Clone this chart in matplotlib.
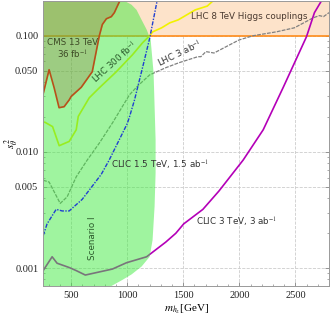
import numpy as np
import matplotlib
matplotlib.use("Agg")
import matplotlib.pyplot as plt
from matplotlib.ticker import FixedLocator, FixedFormatter, MultipleLocator, LogLocator, NullFormatter

plt.rcParams['font.family'] = ['Liberation Serif', 'DejaVu Serif']
plt.rcParams['mathtext.fontset'] = 'stix'

# ---------------- data ----------------
xlim = (250, 2800)
ylim = (0.0007, 0.2)

higgs_coupling_limit = 0.1

# CMS 13 TeV 36 fb^-1 exclusion boundary
cms_m = [250, 303, 348, 392, 437, 482, 500, 590, 688, 751, 778, 814, 858, 885, 912, 945]
cms_s = [0.0316, 0.051, 0.0356, 0.024, 0.0245, 0.028, 0.030, 0.036, 0.049, 0.100,
         0.125, 0.140, 0.146, 0.158, 0.180, 0.21]

# LHC 300 fb^-1
lhc300_m = [265, 334, 393, 482, 545, 563, 661, 751, 903, 1047, 1137, 1200, 1227, 1307,
            1379, 1455, 1607, 1714, 1790]
lhc300_s = [0.018, 0.0165, 0.0113, 0.0123, 0.0155, 0.0202, 0.0292, 0.0356, 0.049, 0.0686,
            0.087, 0.100, 0.108, 0.117, 0.129, 0.137, 0.167, 0.18, 0.21]

# LHC 3 ab^-1
lhc3_m = [250, 303, 402, 464, 545, 643, 751, 869, 1020, 1094, 1200, 1343, 1460, 1630, 1657,
          1702, 1774, 1998, 2123, 2330, 2491, 2661, 2715, 2751, 2800]
lhc3_s = [0.0057, 0.0055, 0.0036, 0.0041, 0.0061, 0.0085, 0.0119, 0.0178, 0.031, 0.037,
          0.046, 0.053, 0.0585, 0.066, 0.066, 0.073, 0.071, 0.092, 0.100, 0.108, 0.117,
          0.143, 0.149, 0.146, 0.158]

# CLIC 1.5 TeV, 1.5 ab^-1
clic15_m = [250, 285, 366, 420, 482, 598, 768, 839, 1000, 1020, 1065, 1150, 1200, 1271]
clic15_s = [0.0019, 0.0024, 0.0032, 0.0031, 0.0031, 0.0039, 0.0064, 0.0085, 0.0175, 0.020,
            0.028, 0.060, 0.095, 0.21]

# CLIC 3 TeV, 3 ab^-1
clic3_m = [250, 330, 374, 482, 545, 626, 868, 993, 1173, 1343, 1433, 1504, 1675, 1818,
           2034, 2213, 2392, 2599, 2670, 2733, 2750]
clic3_s = [0.00095, 0.00125, 0.0011, 0.00101, 0.00095, 0.00087, 0.00098, 0.00111, 0.00125,
           0.00167, 0.00199, 0.0024, 0.0032, 0.0046, 0.0085, 0.0155, 0.036, 0.098, 0.158,
           0.2, 0.21]

# Scenario I region boundary
scen_m = [240, 930, 957, 1038, 1083, 1128, 1173, 1209, 1235, 1253, 1253, 1244, 1226, 1200,
          1128, 1038, 957, 859, 830, 240]
scen_s = [0.22, 0.22, 0.204, 0.185, 0.167, 0.137, 0.113, 0.092, 0.048, 0.0127, 0.0066,
          0.0034, 0.00174, 0.00125, 0.00103, 0.00088, 0.00079, 0.00070, 0.00068, 0.00068]

yticks = [0.001, 0.005, 0.010, 0.050, 0.100]
ytick_labels = ["0.001", "0.005", "0.010", "0.050", "0.100"]
xticks = [500, 1000, 1500, 2000, 2500]

# ---------------- figure ----------------
fig = plt.figure(figsize=(3.32, 3.18), dpi=100)
ax = fig.add_axes([0.130, 0.1006, 0.861, 0.897])
ax.set_yscale('log')
ax.set_xlim(*xlim)
ax.set_ylim(*ylim)

# LHC 8 TeV Higgs couplings region
ax.fill_between([xlim[0] - 50, xlim[1] + 50], higgs_coupling_limit, 1.0,
                color='#fde3ca', zorder=1, lw=0)
ax.axhline(higgs_coupling_limit, color='#ff8c1a', lw=1.2, zorder=2)

# lines under the green region
ax.plot(lhc300_m, lhc300_s, color='#f2f200', lw=1.2, zorder=3)
ax.plot(lhc3_m, lhc3_s, color='#808080', lw=0.9, ls=(0, (3, 1)), zorder=3)
ax.plot(clic3_m, clic3_s, color='#b400b8', lw=1.2, zorder=3)

# Scenario I region
ax.fill(scen_m, scen_s, color='#40ea40', alpha=0.5, lw=0, zorder=4)

# CMS region
cms_top = [0.3] * len(cms_m)
ax.fill_between(cms_m, cms_s, cms_top, color='#9a5a30', alpha=0.26, lw=0, zorder=5)
ax.plot(cms_m, cms_s, color='#b8501a', lw=1.2, zorder=6)

ax.plot(clic15_m, clic15_s, color='#1f3fd0', lw=1.0, ls=(0, (3, 1, 1, 1)), zorder=6)

# texts
tf = dict(family='DejaVu Sans', fontsize=6.3, zorder=8)
ax.text(2087, 0.146, "LHC 8 TeV Higgs couplings", color='#4a3a30', ha='center', va='center', **tf)
ax.text(515, 0.087, "CMS 13 TeV", color='#3d4a25', ha='center', va='center', **tf)
ax.text(510, 0.0686, "36 fb$^{-1}$", color='#3d4a25', ha='center', va='center', **tf)
ax.text(895, 0.0585, "LHC 300 fb$^{-1}$", color='#2a5a2a', ha='center', va='center',
        rotation=42, **tf)
ax.text(1469, 0.070, "LHC 3 ab$^{-1}$", color='#333333', ha='center', va='center',
        rotation=26, **tf)
ax.text(1289, 0.0077, "CLIC 1.5 TeV, 1.5 ab$^{-1}$", color='#333333', ha='center',
        va='center', **tf)
ax.text(1971, 0.00245, "CLIC 3 TeV, 3 ab$^{-1}$", color='#333333', ha='center',
        va='center', **tf)
ax.text(688, 0.00181, "Scenario I", color='#2a5a2a', ha='center', va='center',
        rotation=90, **tf)

# ticks
ax.yaxis.set_major_locator(FixedLocator(yticks))
ax.yaxis.set_major_formatter(FixedFormatter(ytick_labels))
ax.yaxis.set_minor_locator(LogLocator(base=10, subs=np.arange(2, 10)))
ax.yaxis.set_minor_formatter(NullFormatter())
ax.xaxis.set_major_locator(FixedLocator(xticks))
ax.xaxis.set_minor_locator(MultipleLocator(100))
ax.tick_params(which='both', direction='in', top=True, right=True, colors='#888888',
               labelcolor='#222222', labelsize=7.5)
ax.tick_params(which='major', length=3, width=0.6)
ax.tick_params(which='minor', length=1.6, width=0.5)
ax.grid(True, which='major', ls='--', color='#cccccc', lw=0.6, zorder=0)
ax.set_axisbelow(True)
for sp in ax.spines.values():
    sp.set_color('#999999')
    sp.set_linewidth(0.7)
    sp.set_zorder(10)

ax.set_xlabel(r"$m_{h_2}$[GeV]", fontsize=8, labelpad=2)
fig.text(12 / 332, 1 - 143 / 318, r"$s_\theta^{\,2}$", fontsize=8, rotation=90,
         ha='center', va='center')

fig.savefig("out.png", dpi=100)
